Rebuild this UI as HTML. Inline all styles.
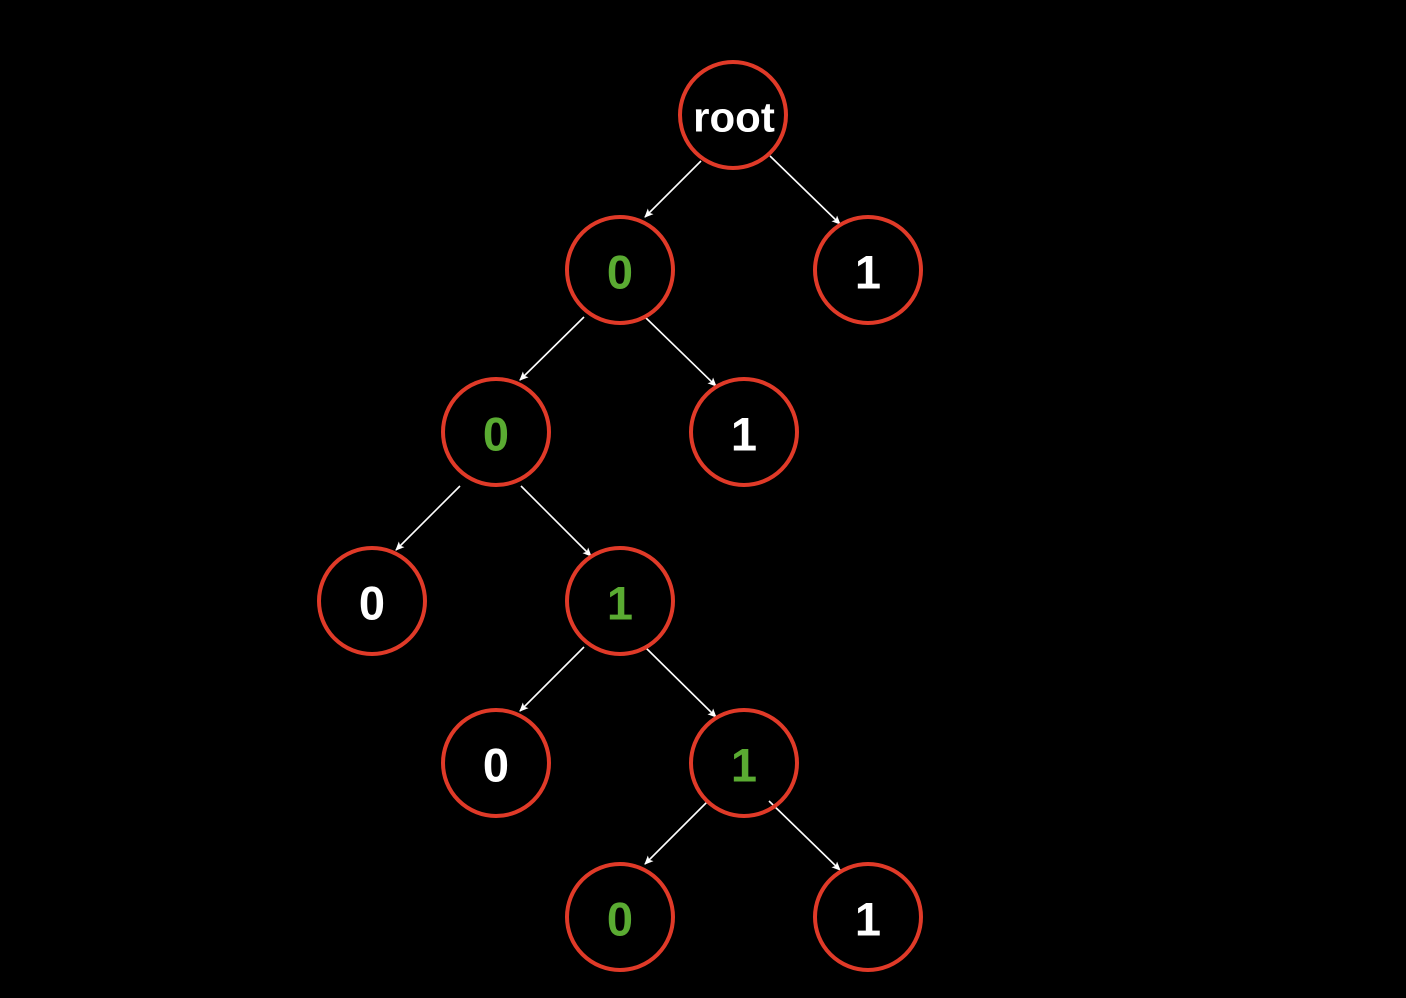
<!DOCTYPE html>
<html><head><meta charset="utf-8"><style>
html,body{margin:0;padding:0;background:#000;}
svg{display:block;}
text{font-family:"Liberation Sans",sans-serif;font-weight:bold;font-size:47px;text-anchor:middle;dominant-baseline:central;}
</style></head><body>
<svg width="1406" height="998" viewBox="0 0 1406 998">
<defs><marker id="a" markerWidth="10" markerHeight="10" refX="8" refY="5" orient="auto" markerUnits="userSpaceOnUse"><path d="M0,1 L9,5 L0,9 L2,5 Z" fill="#fff"/></marker></defs>
<g stroke="#fff" stroke-width="1.6" marker-end="url(#a)">
<line x1="701" y1="161" x2="645" y2="217"/>
<line x1="770" y1="156" x2="840" y2="224"/>
<line x1="584" y1="317" x2="520" y2="380"/>
<line x1="645" y1="317" x2="716" y2="386"/>
<line x1="460" y1="486" x2="396" y2="550"/>
<line x1="521" y1="486" x2="591" y2="556"/>
<line x1="584" y1="647" x2="520" y2="711"/>
<line x1="645" y1="647" x2="716" y2="717"/>
<line x1="708" y1="801" x2="645" y2="864"/>
<line x1="769" y1="801" x2="840" y2="870"/>
</g>
<g fill="none" stroke="#e03a28" stroke-width="4">
<circle cx="733" cy="115" r="53"/>
<circle cx="620" cy="270" r="53"/><circle cx="868" cy="270" r="53"/>
<circle cx="496" cy="432" r="53"/><circle cx="744" cy="432" r="53"/>
<circle cx="372" cy="601" r="53"/><circle cx="620" cy="601" r="53"/>
<circle cx="496" cy="763" r="53"/><circle cx="744" cy="763" r="53"/>
<circle cx="620" cy="917" r="53"/><circle cx="868" cy="917" r="53"/>
</g>
<text x="734" y="117" fill="#fff" style="font-size:42px">root</text>
<text x="620" y="272" fill="#5aab32">0</text>
<text x="868" y="272" fill="#fff">1</text>
<text x="496" y="434" fill="#5aab32">0</text>
<text x="744" y="434" fill="#fff">1</text>
<text x="372" y="603" fill="#fff">0</text>
<text x="620" y="603" fill="#5aab32">1</text>
<text x="496" y="765" fill="#fff">0</text>
<text x="744" y="765" fill="#5aab32">1</text>
<text x="620" y="919" fill="#5aab32">0</text>
<text x="868" y="919" fill="#fff">1</text>
</svg>
</body></html>
